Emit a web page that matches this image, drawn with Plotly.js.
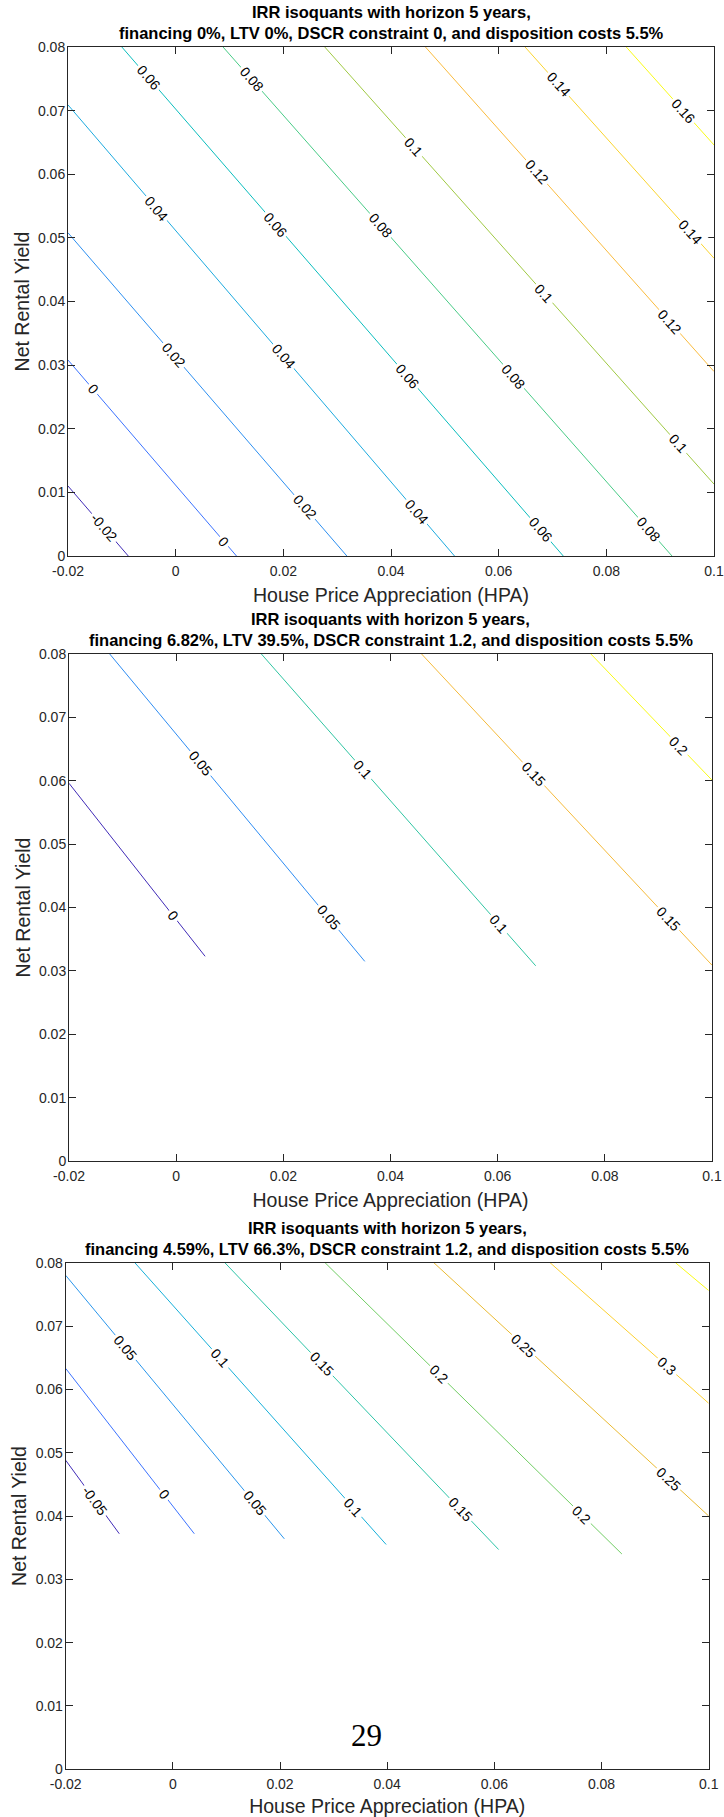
<!DOCTYPE html>
<html>
<head>
<meta charset="utf-8">
<script src="https://cdn.plot.ly/plotly-3.0.1.min.js"></script>
<style>
html, body { margin: 0; padding: 0; background: #ffffff; }
#chart { width: 724px; height: 1817px; }
</style>
</head>
<body>
<div id="chart"></div>
<script>
// ----------------- data -----------------
const xTickVals = [-0.02, 0, 0.02, 0.04, 0.06, 0.08, 0.1];
const xTickText = ['-0.02', '0', '0.02', '0.04', '0.06', '0.08', '0.1'];
const yTickVals = [0, 0.01, 0.02, 0.03, 0.04, 0.05, 0.06, 0.07, 0.08];
const yTickText = ['0', '0.01', '0.02', '0.03', '0.04', '0.05', '0.06', '0.07', '0.08'];

const xTitle = 'House Price Appreciation (HPA)';
const yTitle = 'Net Rental Yield';

// Panel 1: financing 0%
const p1Title = ['IRR isoquants with horizon 5 years,', 'financing 0%, LTV 0%, DSCR constraint 0, and disposition costs 5.5%'];
const p1Levels = [-0.02, 0, 0.02, 0.04, 0.06, 0.08, 0.1, 0.12, 0.14, 0.16];
const p1StartX = [-0.02, -0.02, -0.02, -0.02, -0.0100, 0.0088, 0.0277, 0.0464, 0.0649, 0.0837];
const p1StartY = [0.011, 0.0308, 0.0508, 0.0709, 0.08, 0.08, 0.08, 0.08, 0.08, 0.08];
const p1EndX = [-0.0088, 0.0113, 0.0318, 0.0518, 0.0720, 0.0922, 0.1, 0.1, 0.1, 0.1];
const p1EndY = [0, 0, 0, 0, 0, 0, 0.0113, 0.0290, 0.0468, 0.0646];
const p1LabelLevel = [0.06, 0.08, 0.04, 0.06, 0.1, 0.12, 0.14, 0.16, 0.08, 0.1, 0.14, 0.12, 0.06, 0.08, 0.1, 0.04, 0.06, 0.08, 0.02, 0.04, 0, 0.02, -0.02, 0];
const p1LabelX = [-0.0051, 0.0141, -0.0035, 0.0186, 0.0442, 0.0671, 0.0711, 0.0943, 0.0380, 0.0685, 0.0956, 0.0918, 0.0430, 0.0628, 0.0934, 0.0448, 0.0677, 0.0878, -0.0004, 0.0200, -0.0153, 0.0240, -0.0134, 0.0090];

// Panel 2: financing 6.82%
const p2Title = ['IRR isoquants with horizon 5 years,', 'financing 6.82%, LTV 39.5%, DSCR constraint 1.2, and disposition costs 5.5%'];
const p2Levels = [0, 0.05, 0.1, 0.15, 0.2];
const p2StartX = [-0.02, -0.0124, 0.0159, 0.0458, 0.0774];
const p2StartY = [0.0596, 0.08, 0.08, 0.08, 0.08];
const p2EndX = [0.0054, 0.0352, 0.0671, 0.1, 0.1];
const p2EndY = [0.0323, 0.0315, 0.0308, 0.0309, 0.0601];
const p2LabelLevel = [0.05, 0.05, 0, 0.1, 0.1, 0.15, 0.15, 0.2];
const p2LabelX = [0.0045, 0.0284, -0.0005, 0.0349, 0.0602, 0.0667, 0.0919, 0.0938];

// Panel 3: financing 4.59%
const p3Title = ['IRR isoquants with horizon 5 years,', 'financing 4.59%, LTV 66.3%, DSCR constraint 1.2, and disposition costs 5.5%'];
const p3Levels = [-0.05, 0, 0.05, 0.1, 0.15, 0.2, 0.25, 0.3, 0.35];
const p3StartX = [-0.02, -0.02, -0.02, -0.0071, 0.0097, 0.0284, 0.0487, 0.0704, 0.0938];
const p3StartY = [0.0488, 0.0633, 0.0780, 0.08, 0.08, 0.08, 0.08, 0.08, 0.08];
const p3EndX = [-0.0100, 0.0040, 0.0208, 0.0398, 0.0608, 0.0838, 0.1, 0.1, 0.1];
const p3EndY = [0.0372, 0.0372, 0.0364, 0.0355, 0.0347, 0.0340, 0.0400, 0.0578, 0.0756];
const p3LabelLevel = [0.05, 0.1, 0.15, 0.2, 0.25, 0.3, 0.25, 0.2, 0.15, 0.1, 0.05, 0, -0.05];
const p3LabelX = [-0.0088, 0.0088, 0.0278, 0.0496, 0.0655, 0.0922, 0.0925, 0.0763, 0.0536, 0.0337, 0.0153, -0.0017, -0.0145];

const pageNumber = '29';

// ----------------- styles / layout -----------------
const FONT = 'Liberation Sans, Arial, Helvetica, sans-serif';
const FIG_W = 724, FIG_H = 1817;
const X_RANGE = [-0.02, 0.1], Y_RANGE = [0, 0.08];
// plot boxes in pixels: [left, top, right, bottom]
const boxes = [[68, 47, 714, 556], [69, 654, 712, 1161], [65.7, 1262.7, 708.7, 1769.3]];
// colormap position of each contour level's line colour (as seen in the reference)
const colorPos = [
  [0.02, 0.23, 0.31, 0.40, 0.49, 0.60, 0.70, 0.83, 0.90, 1.0],
  [0.02, 0.30, 0.55, 0.82, 1.0],
  [0.02, 0.23, 0.33, 0.42, 0.54, 0.65, 0.80, 0.89, 1.0]
];

// MATLAB parula colormap (64 rows)
const parula = [
[0.2422,0.1504,0.6603],[0.2504,0.1650,0.7076],[0.2578,0.1818,0.7511],[0.2647,0.1978,0.7952],
[0.2706,0.2147,0.8364],[0.2751,0.2342,0.8710],[0.2783,0.2559,0.8991],[0.2803,0.2782,0.9221],
[0.2813,0.3006,0.9414],[0.2810,0.3228,0.9579],[0.2795,0.3447,0.9717],[0.2760,0.3667,0.9829],
[0.2699,0.3892,0.9906],[0.2602,0.4123,0.9952],[0.2440,0.4358,0.9988],[0.2206,0.4603,0.9973],
[0.1963,0.4847,0.9892],[0.1834,0.5074,0.9798],[0.1786,0.5289,0.9682],[0.1764,0.5499,0.9520],
[0.1687,0.5703,0.9359],[0.1540,0.5902,0.9218],[0.1460,0.6091,0.9079],[0.1380,0.6276,0.8973],
[0.1248,0.6459,0.8883],[0.1113,0.6635,0.8763],[0.0952,0.6798,0.8598],[0.0689,0.6948,0.8394],
[0.0297,0.7082,0.8163],[0.0036,0.7203,0.7917],[0.0067,0.7312,0.7660],[0.0433,0.7411,0.7394],
[0.0964,0.7500,0.7120],[0.1408,0.7584,0.6842],[0.1717,0.7670,0.6554],[0.1938,0.7758,0.6251],
[0.2161,0.7843,0.5923],[0.2470,0.7918,0.5567],[0.2906,0.7973,0.5188],[0.3406,0.8008,0.4789],
[0.3909,0.8029,0.4354],[0.4456,0.8024,0.3909],[0.5044,0.7993,0.3480],[0.5616,0.7942,0.3045],
[0.6174,0.7876,0.2612],[0.6720,0.7793,0.2227],[0.7242,0.7698,0.1910],[0.7738,0.7598,0.1646],
[0.8203,0.7498,0.1535],[0.8634,0.7406,0.1596],[0.9035,0.7330,0.1774],[0.9393,0.7288,0.2100],
[0.9728,0.7298,0.2394],[0.9956,0.7434,0.2371],[0.9970,0.7659,0.2199],[0.9952,0.7893,0.2028],
[0.9892,0.8136,0.1885],[0.9786,0.8386,0.1766],[0.9676,0.8639,0.1643],[0.9610,0.8890,0.1537],
[0.9597,0.9135,0.1423],[0.9628,0.9373,0.1265],[0.9691,0.9606,0.1064],[0.9769,0.9839,0.0805]
];
function parulaColor(t) {
  t = Math.max(0, Math.min(1, t));
  const f = t * (parula.length - 1);
  const i = Math.min(parula.length - 2, Math.floor(f));
  const u = f - i;
  const c = parula[i].map((v, k) => Math.round(255 * (v + (parula[i + 1][k] - v) * u)));
  return 'rgb(' + c.join(',') + ')';
}

const panels = [
  {levels: p1Levels, sx: p1StartX, sy: p1StartY, ex: p1EndX, ey: p1EndY, labLevel: p1LabelLevel, labX: p1LabelX, title: p1Title},
  {levels: p2Levels, sx: p2StartX, sy: p2StartY, ex: p2EndX, ey: p2EndY, labLevel: p2LabelLevel, labX: p2LabelX, title: p2Title},
  {levels: p3Levels, sx: p3StartX, sy: p3StartY, ex: p3EndX, ey: p3EndY, labLevel: p3LabelLevel, labX: p3LabelX, title: p3Title}
];

const traces = [];
const annotations = [];
const layout = {
  width: FIG_W, height: FIG_H,
  margin: {l: 0, r: 0, t: 0, b: 0},
  paper_bgcolor: '#ffffff', plot_bgcolor: '#ffffff',
  showlegend: false,
  font: {family: FONT, color: '#262626'}
};

function px2paperX(px) { return px / FIG_W; }
function px2paperY(py) { return 1 - py / FIG_H; }

panels.forEach((p, idx) => {
  const n = idx + 1;
  const xa = n === 1 ? 'x' : 'x' + n;
  const ya = n === 1 ? 'y' : 'y' + n;
  const b = boxes[idx];
  const pw = b[2] - b[0], ph = b[3] - b[1];

  const axisCommon = {
    ticks: 'inside', ticklen: 7, tickwidth: 1, tickcolor: '#262626',
    showline: true, linecolor: '#262626', linewidth: 1, mirror: 'ticks',
    showgrid: false, zeroline: false, fixedrange: true,
    tickfont: {family: FONT, size: 14, color: '#262626'}
  };
  layout['xaxis' + (n === 1 ? '' : n)] = Object.assign({}, axisCommon, {
    domain: [px2paperX(b[0]), px2paperX(b[2])],
    range: X_RANGE, tickvals: xTickVals, ticktext: xTickText,
    anchor: ya, ticklabelstandoff: 2,
    title: {text: xTitle, font: {family: FONT, size: 19.5, color: '#262626'}, standoff: 10}
  });
  layout['yaxis' + (n === 1 ? '' : n)] = Object.assign({}, axisCommon, {
    domain: [px2paperY(b[3]), px2paperY(b[1])],
    range: Y_RANGE, tickvals: yTickVals, ticktext: yTickText,
    anchor: xa, ticklabelstandoff: -1,
    title: {text: yTitle, font: {family: FONT, size: 19.5, color: '#262626'}, standoff: 3}
  });

  // contour lines
  p.levels.forEach((lev, i) => {
    const col = parulaColor(colorPos[idx][i]);
    traces.push({
      type: 'scatter', mode: 'lines', xaxis: xa, yaxis: ya,
      x: [p.sx[i], p.ex[i]], y: [p.sy[i], p.ey[i]],
      line: {color: col, width: 1}, hoverinfo: 'skip', cliponaxis: true
    });
  });

  // inline contour labels, placed on their line and rotated along it
  p.labLevel.forEach((lev, j) => {
    const i = p.levels.indexOf(lev);
    const x0 = p.sx[i], y0 = p.sy[i], x1 = p.ex[i], y1 = p.ey[i];
    const lx = p.labX[j];
    const ly = y0 + (y1 - y0) * (lx - x0) / (x1 - x0);
    const dxp = (x1 - x0) / (X_RANGE[1] - X_RANGE[0]) * pw;
    const dyp = -(y1 - y0) / (Y_RANGE[1] - Y_RANGE[0]) * ph;
    const ang = Math.atan2(dyp, dxp) * 180 / Math.PI;
    annotations.push({
      xref: xa, yref: ya, x: lx, y: ly, text: String(lev), showarrow: false,
      textangle: ang, xanchor: 'center', yanchor: 'middle',
      font: {family: FONT, size: 14, color: '#000000'},
      bgcolor: '#ffffff', borderpad: 2
    });
  });

  // two-line bold titles
  const cx = px2paperX((b[0] + b[2]) / 2);
  annotations.push({
    xref: 'paper', yref: 'paper', x: cx, y: px2paperY(b[1] - 35), text: '<b>' + p.title[0] + '</b>',
    showarrow: false, xanchor: 'center', yanchor: 'middle',
    font: {family: FONT, size: 16.5, color: '#000000'}
  });
  annotations.push({
    xref: 'paper', yref: 'paper', x: cx, y: px2paperY(b[1] - 14), text: '<b>' + p.title[1] + '</b>',
    showarrow: false, xanchor: 'center', yanchor: 'middle',
    font: {family: FONT, size: 16.5, color: '#000000'}
  });
});

// page number of the source document
annotations.push({
  xref: 'paper', yref: 'paper', x: px2paperX(367), y: px2paperY(1735), text: pageNumber,
  showarrow: false, xanchor: 'center', yanchor: 'middle',
  font: {family: 'Liberation Serif, DejaVu Serif, serif', size: 31, color: '#000000'}
});

layout.annotations = annotations;

Plotly.newPlot('chart', traces, layout, {displayModeBar: false, staticPlot: true});
</script>
</body>
</html>
